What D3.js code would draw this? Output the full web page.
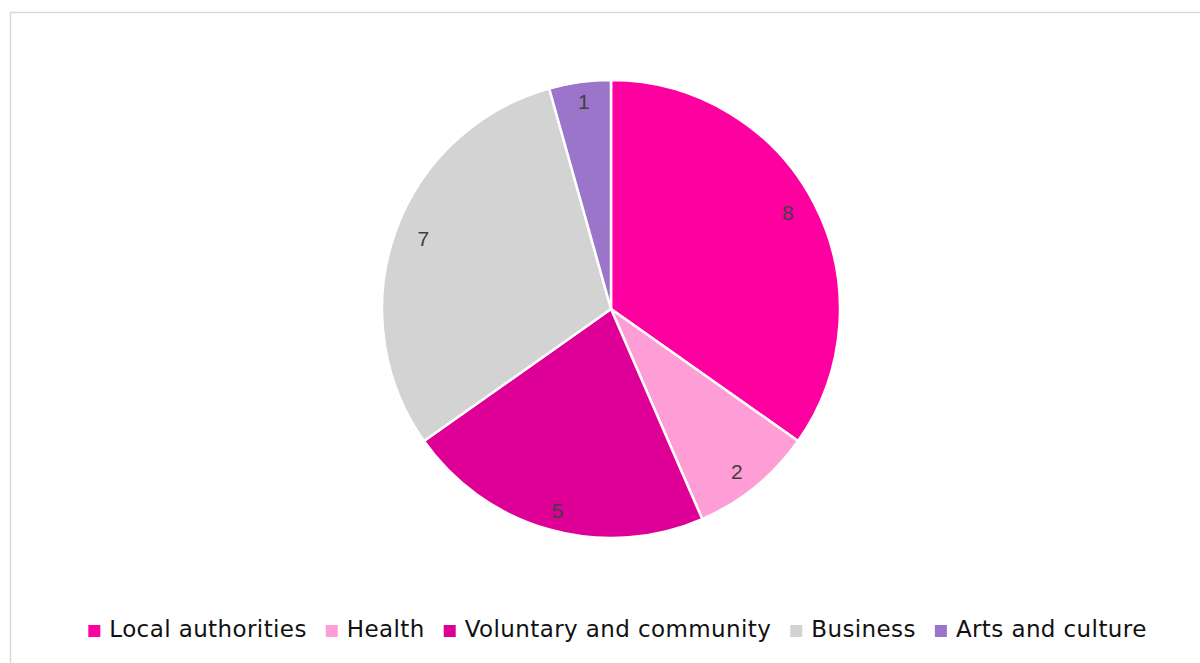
<!DOCTYPE html>
<html>
<head>
<meta charset="utf-8">
<script src="https://cdn.jsdelivr.net/npm/d3@7"></script>
<style>
  body { margin: 0; background: #fff; }
</style>
</head>
<body>
<script>
const categories = ['Local authorities', 'Health', 'Voluntary and community', 'Business', 'Arts and culture'];
const values = [8, 2, 5, 7, 1];
const colors = ['#FF00A0', '#FF9DD6', '#DE0096', '#D3D3D3', '#9B75C9'];

const width = 1200, height = 663;
const cx = 611, cy = 309, radius = 229;

const svg = d3.select('body').append('svg')
  .attr('width', width)
  .attr('height', height);

// chart frame, runs off the right and bottom
svg.append('rect')
  .attr('x', 10.5).attr('y', 12.5)
  .attr('width', 1300).attr('height', 700)
  .attr('fill', 'none')
  .attr('stroke', '#D9D9D9')
  .attr('stroke-width', 1.5);

const data = categories.map((c, i) => ({ name: c, value: values[i], color: colors[i] }));

const pie = d3.pie().sort(null).value(d => d.value);
const arc = d3.arc().innerRadius(0).outerRadius(radius);
const labelArc = d3.arc().innerRadius(radius * 0.87).outerRadius(radius * 0.87);

const g = svg.append('g').attr('transform', `translate(${cx},${cy})`);
const arcs = pie(data);

g.selectAll('path')
  .data(arcs)
  .join('path')
  .attr('d', arc)
  .attr('fill', d => d.data.color)
  .attr('stroke', '#fff')
  .attr('stroke-width', 2.5)
  .attr('stroke-linejoin', 'round');

g.selectAll('text')
  .data(arcs)
  .join('text')
  .attr('transform', d => {
    const [x, y] = labelArc.centroid(d);
    return `translate(${x},${y * 1.05})`;
  })
  .attr('text-anchor', 'middle')
  .attr('dy', '0.35em')
  .attr('font-family', '"Liberation Sans", sans-serif')
  .attr('font-size', 21)
  .attr('fill', '#404040')
  .text(d => d.data.value);

// legend
const legend = svg.append('g');
const items = legend.selectAll('g')
  .data(data)
  .join('g');

items.append('rect')
  .attr('width', 12).attr('height', 12)
  .attr('y', -12)
  .attr('fill', d => d.color);

items.append('text')
  .attr('x', 21)
  .attr('font-family', '"DejaVu Sans", sans-serif')
  .attr('font-size', 23)
  .attr('letter-spacing', 0.4)
  .attr('fill', '#111')
  .text(d => d.name);

let x = 0;
items.each(function () {
  const w = d3.select(this).select('text').node().getComputedTextLength();
  d3.select(this).attr('transform', `translate(${x},0)`);
  x += 21 + w + 19;
});
const total = x - 19;
legend.attr('transform', `translate(${617.5 - total / 2},637)`);
</script>
</body>
</html>
